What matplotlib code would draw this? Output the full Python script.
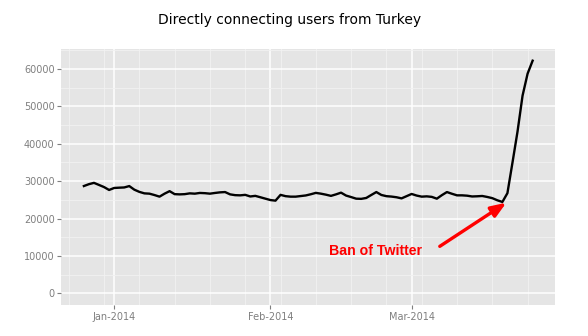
import matplotlib
matplotlib.use('Agg')
import matplotlib.pyplot as plt
import matplotlib.dates as mdates
import numpy as np
import pandas as pd

# daily directly connecting users, 26 Dec 2013 .. 25 Mar 2014
start_day = '2013-12-26'
users = [28700, 29200, 29550, 28990, 28420, 27650, 28180, 28260, 28320, 28690,
         27730, 27140, 26740, 26660, 26290, 25860, 26660, 27330, 26530, 26470,
         26530, 26740, 26660, 26850, 26790, 26660, 26850, 27010, 27090, 26470,
         26260, 26210, 26340, 25910, 26070, 25700, 25320, 24950, 24790, 26340,
         25990, 25860, 25860, 26020, 26180, 26500, 26870, 26660, 26390, 26070,
         26470, 26930, 26150, 25750, 25320, 25270, 25510, 26310, 27090, 26310,
         25990, 25880, 25700, 25400, 25990, 26580, 26150, 25860, 25940, 25800,
         25320, 26260, 27090, 26630, 26210, 26210, 26120, 25910, 25960, 26040,
         25780, 25460, 24890, 24440, 26800, 34950, 43240, 52860, 58750, 62220]

title = 'Directly connecting users from Turkey'
note_text = 'Ban of Twitter'
note_pos = ('2014-02-21 22:00', 11230)
arrow_from = ('2014-03-06 14:00', 12570)
arrow_to = ('2014-03-19 19:00', 24250)

days = pd.date_range(start_day, periods=len(users), freq='D')


def main():
    fig = plt.figure(figsize=(5.88, 3.36), dpi=100)
    ax = fig.add_axes([0.1045, 0.0923, 0.8395, 0.7617])

    ax.set_facecolor('#E5E5E5')
    for s in ax.spines.values():
        s.set_visible(False)

    ax.plot(days, users, color='black', lw=1.7, zorder=3)

    # ggplot-ish expansion of the ranges
    span = days[-1] - days[0]
    ax.set_xlim(days[0] - span * 0.05, days[-1] + span * 0.05)
    top = max(users)
    ax.set_ylim(-0.05 * top, top * 1.05)

    ax.xaxis.set_major_locator(mdates.MonthLocator())
    ax.xaxis.set_major_formatter(mdates.DateFormatter('%b-%Y'))
    ax.xaxis.set_minor_locator(mdates.WeekdayLocator(byweekday=mdates.MO))
    ax.yaxis.set_major_locator(plt.MultipleLocator(10000))
    ax.yaxis.set_minor_locator(plt.MultipleLocator(5000))

    ax.grid(which='major', color='white', lw=1.1, zorder=1)
    ax.grid(which='minor', color='#F2F2F2', lw=0.6, zorder=0.5)
    ax.set_axisbelow(True)

    ax.tick_params(which='major', length=3, width=0.8, color='#7F7F7F',
                   labelcolor='#7F7F7F', labelsize=7, pad=2)
    ax.tick_params(which='minor', length=0)

    ax.text(pd.Timestamp(note_pos[0]), note_pos[1], note_text, color='red',
            fontsize=10.2, fontweight='bold', family='Liberation Sans',
            ha='center', va='center', zorder=4)
    ax.annotate('', xy=(pd.Timestamp(arrow_to[0]), arrow_to[1]),
                xytext=(pd.Timestamp(arrow_from[0]), arrow_from[1]),
                arrowprops=dict(arrowstyle='-|>,head_length=0.65,head_width=0.25',
                                color='red', lw=2.4, shrinkA=0, shrinkB=0,
                                mutation_scale=14),
                zorder=4)

    fig.text(0.493, 0.94, title, ha='center', va='center', fontsize=10)

    fig.savefig('out.png', dpi=100)


if __name__ == '__main__':
    main()
